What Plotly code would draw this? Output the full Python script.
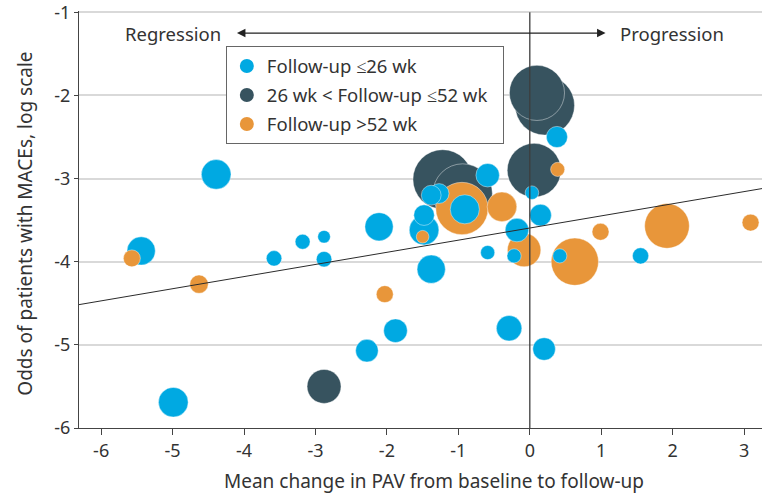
import pandas as pd
import plotly.graph_objects as go

# Study-level values (x: mean change in PAV, y: log odds of MACE)
# weight ~ relative study weight (bubble area)
short_x = [-5.44, -4.39, -4.99, -3.58, -3.18, -2.88, -2.88, -2.11, -2.28, -1.88, -1.38, -0.29, 0.20, -0.59,
           -0.22, 0.42, 1.55, -1.48, -1.48, -1.38, -1.27, -0.59, -0.91, -0.18, 0.15, 0.03, 0.38]
short_y = [-3.87, -2.95, -5.69, -3.96, -3.76, -3.70, -3.97, -3.58, -5.07, -4.83, -4.09, -4.80, -5.05, -3.89,
           -3.93, -3.93, -3.93, -3.44, -3.62, -3.20, -3.18, -2.96, -3.37, -3.62, -3.44, -3.17, -2.50]
short_w = [100, 110, 110, 30, 28, 20, 30, 100, 64, 70, 100, 81, 64, 25,
           25, 25, 33, 53, 110, 49, 49, 69, 106, 69, 59, 23, 56]

mid_x = [0.10, 0.21, 0.06, -1.22, -0.94, -2.88]
mid_y = [-1.97, -2.12, -2.90, -3.01, -3.18, -5.50]
mid_w = [380, 441, 361, 441, 441, 144]

long_x = [-5.57, -4.63, -2.03, -0.95, -0.39, -0.08, 0.39, 0.63, 0.99, 1.92, 3.09, -1.50]
long_y = [-3.96, -4.27, -4.39, -3.36, -3.34, -3.86, -2.89, -4.00, -3.64, -3.57, -3.53, -3.70]
long_w = [36, 42, 36, 342, 110, 140, 25, 280, 36, 250, 36, 20]

group_names = ["Follow-up ≤26 wk", "26 wk &lt; Follow-up ≤52 wk&nbsp;&nbsp;", "Follow-up >52 wk"]
group_colors = ["#00A9E2", "#37535F", "#E8963A"]

# meta-regression fit
fit_intercept = -3.595
fit_slope = 0.146

x_ticks = [-6, -5, -4, -3, -2, -1, 0, 1, 2, 3]
y_ticks = [-6, -5, -4, -3, -2, -1]
x_range = [-6.31, 3.25]
y_range = [-6, -0.985]

text_color = "#333333"
font_family = "Noto Sans"

frames = []
for xs, ys, ws, col in zip([short_x, mid_x, long_x], [short_y, mid_y, long_y],
                           [short_w, mid_w, long_w], group_colors):
    frames.append(pd.DataFrame({"x": xs, "y": ys, "w": ws, "color": col}))
df = pd.concat(frames).sort_values("w", ascending=False)

fig = go.Figure()

# all bubbles in one trace, biggest drawn first
fig.add_trace(go.Scatter(
    x=df["x"], y=df["y"], mode="markers",
    marker=dict(size=df["w"], sizemode="area", sizeref=0.25, color=df["color"],
                opacity=1, line=dict(width=0.6, color="rgba(255,255,255,0.7)")),
    showlegend=False, hoverinfo="x+y"
))

# legend entries
for name, col in zip(group_names, group_colors):
    fig.add_trace(go.Scatter(
        x=[None], y=[None], mode="markers", name=name, legendgroup=name,
        marker=dict(size=14, color=col)
    ))

# regression line
fig.add_trace(go.Scatter(
    x=x_range, y=[fit_intercept + fit_slope * v for v in x_range],
    mode="lines", line=dict(color="#2b2b2b", width=1), showlegend=False, hoverinfo="skip"
))

# zero line
fig.add_shape(type="line", x0=0, x1=0, y0=-6, y1=-1, xref="x", yref="y",
              line=dict(color="#3d3d3d", width=1.3), layer="above")

# regression / progression arrow
fig.add_annotation(x=1.06, y=-1.25, ax=-4.12, ay=-1.25, xref="x", yref="y", axref="x", ayref="y",
                   text="", showarrow=True, arrowhead=2, arrowside="end+start",
                   arrowsize=1.3, arrowwidth=1.3, arrowcolor="#222222")
fig.add_annotation(x=-4.30, y=-1.25, xref="x", yref="y", text="Regression", showarrow=False,
                   xanchor="right", font=dict(size=18.5, color=text_color, family=font_family))
fig.add_annotation(x=1.24, y=-1.25, xref="x", yref="y", text="Progression", showarrow=False,
                   xanchor="left", font=dict(size=18.5, color=text_color, family=font_family))

# axis titles as annotations so they can sit where the original has them
fig.add_annotation(x=0.52, y=-0.127, xref="paper", yref="paper", showarrow=False,
                   text="Mean change in PAV from baseline to follow-up",
                   xanchor="center", yanchor="middle", font=dict(size=19, color=text_color))
fig.add_annotation(x=-0.079, y=0.49, xref="paper", yref="paper", showarrow=False,
                   text="Odds of patients with MACEs, log scale", textangle=-90,
                   xanchor="center", yanchor="middle", font=dict(size=19, color=text_color))

fig.update_layout(
    width=762, height=495,
    margin=dict(l=79, r=0, t=11, b=67),
    paper_bgcolor="white", plot_bgcolor="white",
    font=dict(family=font_family, size=17, color=text_color),
    legend=dict(x=0.215, y=0.915, xanchor="left", yanchor="top",
                bordercolor="#666666", borderwidth=1, bgcolor="white",
                font=dict(size=18.5, color=text_color), tracegroupgap=2),
    xaxis=dict(
        range=x_range, tickvals=x_ticks, ticktext=[str(v) for v in x_ticks],
        showgrid=False, zeroline=False, showline=True, linecolor="#444444", linewidth=1.3,
        ticks="outside", ticklen=6, tickcolor="#444444", tickfont=dict(size=18),
        automargin=False, ticklabeloverflow="allow"
    ),
    yaxis=dict(
        range=y_range, tickvals=y_ticks, ticktext=[str(v) for v in y_ticks],
        showgrid=True, gridcolor="#d9d9d9", gridwidth=2, zeroline=False,
        showline=True, linecolor="#444444", linewidth=1.3,
        ticks="outside", ticklen=4, tickcolor="#444444", tickfont=dict(size=18),
        automargin=False, ticklabeloverflow="allow"
    ),
)

fig.write_html("out.html", config={"displayModeBar": False},
               post_script="document.body.style.margin='0px';")
